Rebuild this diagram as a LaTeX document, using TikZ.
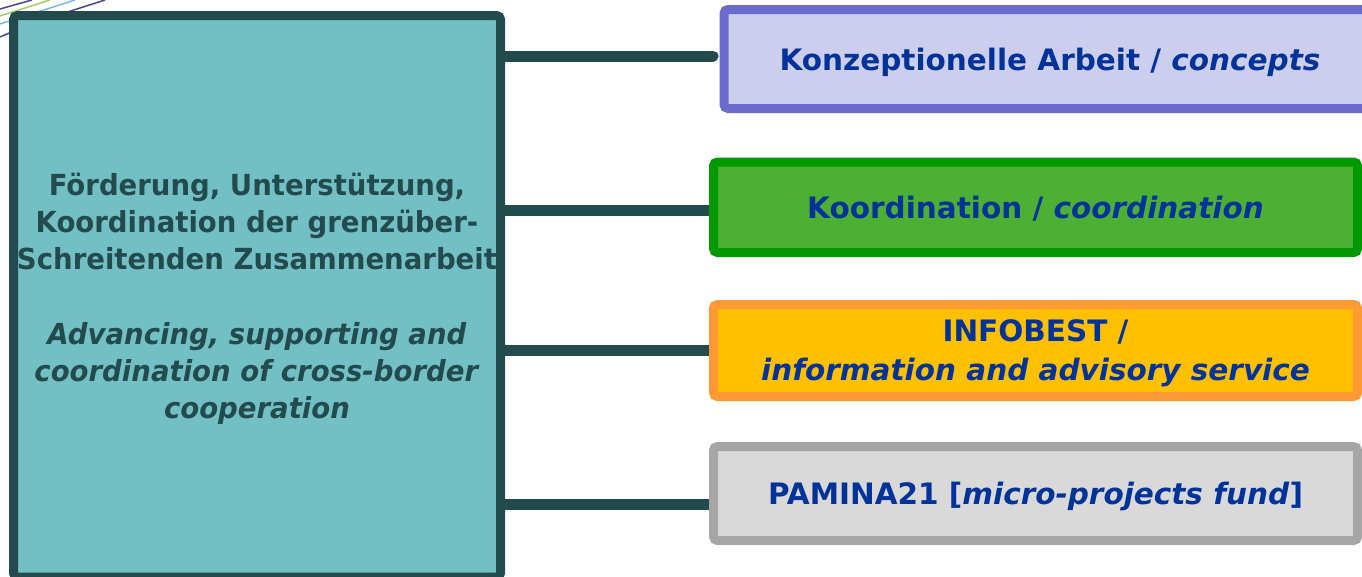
\documentclass[tikz,border=0pt]{standalone}
\usepackage{fontspec}
\setmainfont{DejaVu Sans}
\newfontfamily\leftfont{DejaVu Sans}[FakeStretch=0.95]

\definecolor{tealfill}{RGB}{114,191,196}
\definecolor{darkteal}{RGB}{35,75,78}
\definecolor{konzdraw}{RGB}{107,107,203}
\definecolor{konzfill}{RGB}{205,206,238}
\definecolor{koorddraw}{RGB}{0,153,0}
\definecolor{koordfill}{RGB}{76,176,52}
\definecolor{infodraw}{RGB}{255,153,51}
\definecolor{infofill}{RGB}{255,192,0}
\definecolor{pamdraw}{RGB}{166,166,166}
\definecolor{pamfill}{RGB}{217,217,217}
\definecolor{textblue}{RGB}{0,51,153}
\definecolor{decnavy}{RGB}{70,70,150}
\definecolor{decgreen}{RGB}{165,205,110}
\definecolor{decblue}{RGB}{120,185,230}

\begin{document}
\begin{tikzpicture}[x=1pt,y=-1pt,
	box/.style={line width=9pt,rounded corners=4pt,inner sep=0pt,align=center,text=textblue,text depth=-2pt,
		font=\bfseries\fontsize{29.5}{39}\selectfont},
	link/.style={draw=darkteal,line width=11pt}]
	\clip (0,0) rectangle (1362,576);
	\draw[decnavy,line width=1.5pt] (0,9) -- (32,0);
	\draw[decgreen,line width=1.5pt] (0,16) -- (50,0);
	\draw[decblue,line width=1.5pt] (0,24) -- (75,0);
	\draw[decnavy,line width=1.5pt] (0,37) .. controls (30,24) .. (105,0);
	\node[box,draw=darkteal,fill=tealfill,text=darkteal,minimum width=487pt,minimum height=561.5pt,
		font=\leftfont\bfseries\fontsize{29}{37}\selectfont] (main) at (257,296.25)
		{Förderung, Unterstützung,\\Koordination der grenzüber-\\Schreitenden Zusammenarbeit\\[38pt]
		\textit{Advancing, supporting and}\\\textit{coordination of cross-border}\\\textit{cooperation}};
	\node[box,draw=konzdraw,fill=konzfill,minimum width=652pt,minimum height=99pt] (konz) at (1050,59)
		{Konzeptionelle Arbeit / \textit{concepts}};
	\node[box,draw=koorddraw,fill=koordfill,minimum width=644pt,minimum height=90.5pt] (koord) at (1035.5,207.25)
		{Koordination / \textit{coordination}};
	\node[box,draw=infodraw,fill=infofill,minimum width=644pt,minimum height=92pt] (info) at (1035.5,350.5)
		{INFOBEST /\\\textit{information and advisory service}};
	\node[box,draw=pamdraw,fill=pamfill,minimum width=644pt,minimum height=94pt] (pamina) at (1035.5,493.5)
		{PAMINA21 [\textit{micro-projects fund}]};
	\draw[link,line cap=round] (main.east |- konz.west) ++(0,-3) -- ([xshift=-6.5pt,yshift=3pt]konz.west);
	\draw[link] (main.east |- koord.west) ++(0,3) -- ([yshift=-3pt]koord.west);
	\draw[link] (main.east |- info.west) -- (info.west);
	\draw[link] (main.east |- pamina.west) ++(0,11) -- ([yshift=-11pt]pamina.west);
\end{tikzpicture}
\end{document}
